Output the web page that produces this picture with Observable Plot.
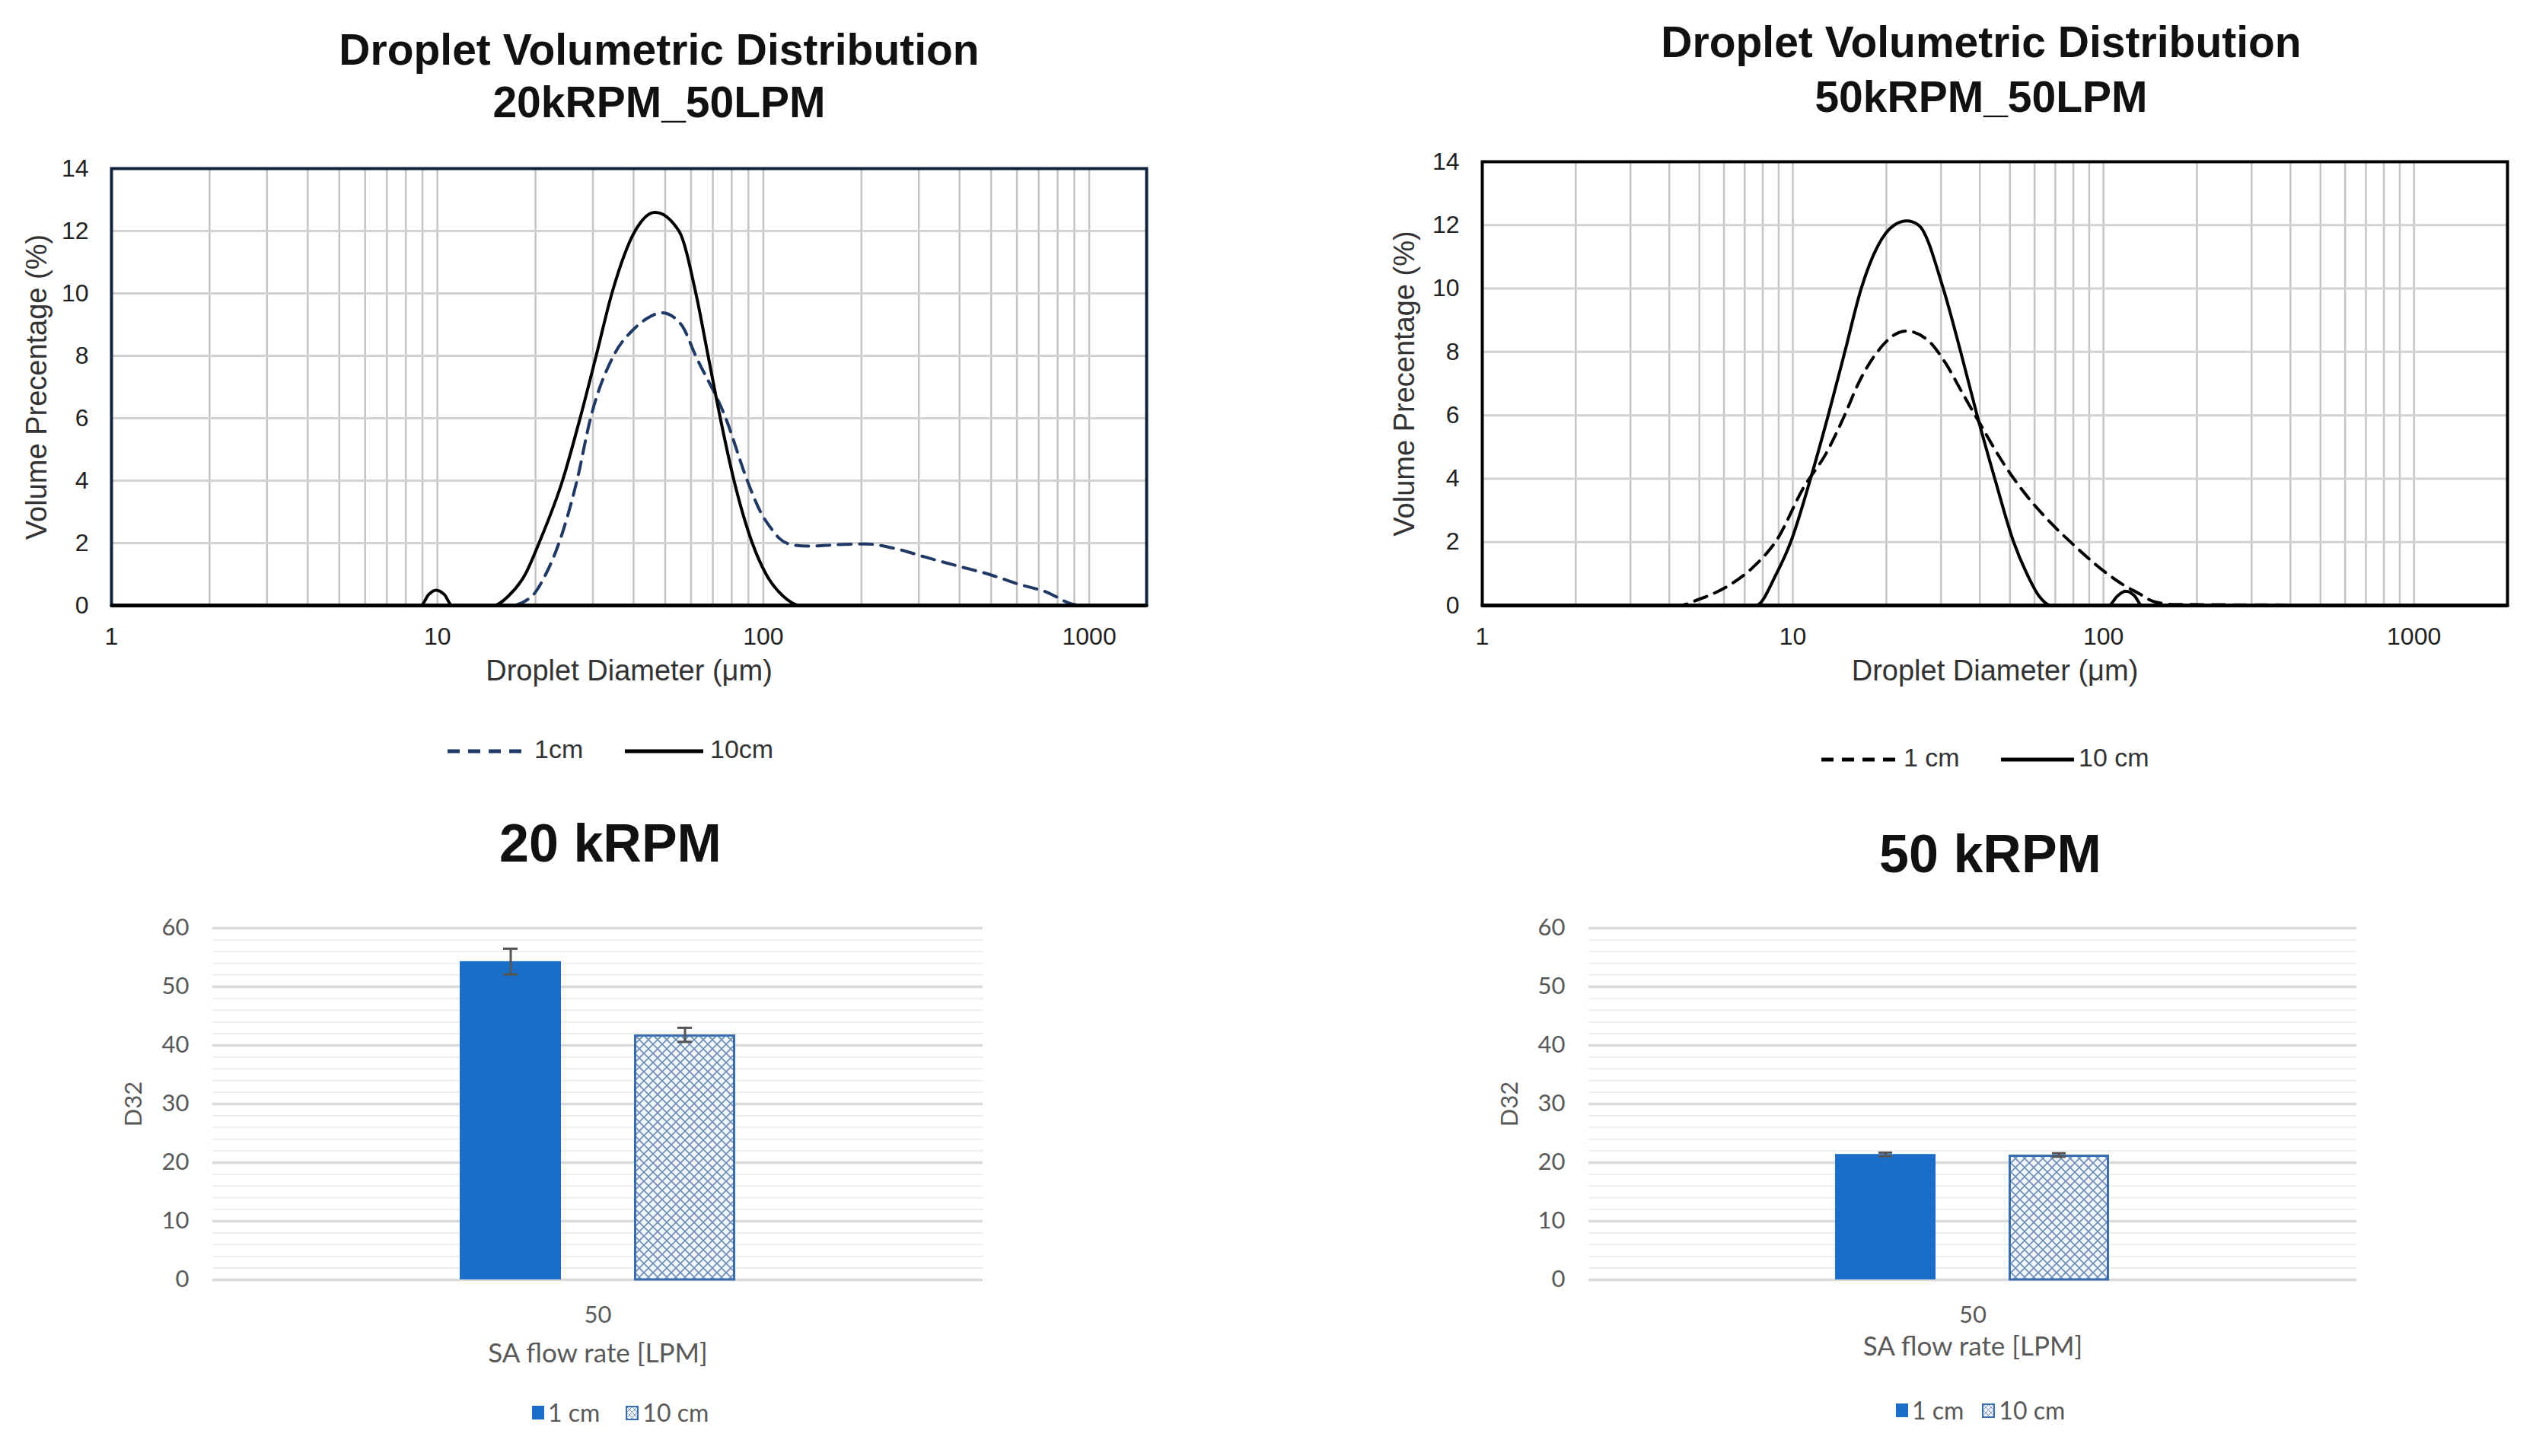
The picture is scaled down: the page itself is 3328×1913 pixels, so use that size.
<!DOCTYPE html>
<html><head><meta charset="utf-8">
<script src="https://cdn.jsdelivr.net/npm/d3@7"></script>
<script src="https://cdn.jsdelivr.net/npm/@observablehq/plot@0.6"></script>
<style>
body{margin:0;background:#fff;}
#root{position:relative;width:3328px;height:1913px;overflow:hidden;background:#fff;}
.abs{position:absolute;white-space:nowrap;line-height:1;}
.ttl{font-family:"Liberation Sans",Arial,sans-serif;font-weight:bold;color:#111;transform:translate(-50%,-50%);}
.lgl{font-family:"Liberation Sans",Arial,sans-serif;font-size:34px;color:#333;transform:translateY(-50%);}
.lgb{font-family:Lato,"Open Sans",sans-serif;font-size:32px;color:#595959;transform:translateY(-50%);display:flex;align-items:center;}
.sw1{display:inline-block;width:16px;height:18px;background:#1b6ec8;margin-right:5px;}
.sw2{display:inline-block;width:13px;height:15px;border:2px solid #3a6db0;margin-right:5px;background-color:#eef5fb;
 background-image:repeating-linear-gradient(45deg,#7d98bb 0 1px,transparent 1px 5px),repeating-linear-gradient(-45deg,#7d98bb 0 1px,transparent 1px 5px);}
</style></head><body><div id="root"></div>
<script>
// ---------- data ----------
const xTicks = [1, 10, 100, 1000];
const yTicksVol = [0, 2, 4, 6, 8, 10, 12, 14];
const gridYVol = [2, 4, 6, 8, 10, 12];

// 20kRPM_50LPM, 1 cm (dashed)
const dia20_1cm = [1, 16.8, 19.5, 21.5, 23.6, 26.8, 29.5, 34.7, 40, 44, 48.9, 56, 62, 76.7, 89.3, 98, 106, 112, 122, 137, 170, 207, 255, 314, 400, 492, 604, 743, 883, 950, 1500];
const vol20_1cm = [0, 0, 0.3, 1.0, 2.0, 4.0, 6.0, 8.0, 8.85, 9.2, 9.38, 9.0, 8.0, 6.0, 4.0, 3.0, 2.45, 2.15, 1.95, 1.9, 1.95, 1.97, 1.82, 1.55, 1.25, 1.0, 0.69, 0.42, 0.05, 0, 0];
// 20kRPM_50LPM, 10 cm (solid)
const dia20_10cm = [1, 8.9, 9.4, 9.9, 10.5, 11.1, 14.9, 16.5, 18.6, 20.5, 24.2, 27.4, 30.7, 34.3, 40.4, 46.5, 55.1, 62.1, 67.7, 73.8, 81.3, 92.5, 102, 115, 130, 1500];
const vol20_10cm = [0, 0, 0.35, 0.49, 0.35, 0, 0, 0.3, 1.0, 2.0, 4.0, 6.0, 8.0, 10.0, 12.0, 12.6, 12.0, 10.0, 8.0, 6.0, 4.0, 2.0, 1.0, 0.3, 0, 0];
// 50kRPM_50LPM, 1 cm (dashed)
const dia50_1cm = [1, 4.3, 4.94, 6.22, 7.45, 8.92, 10.8, 12.8, 14.6, 16.3, 18.6, 23.1, 27.2, 31, 35.3, 40.3, 47.4, 55.8, 65.8, 80, 94.2, 115, 131, 144.5, 170, 2000];
const vol50_1cm = [0, 0, 0.18, 0.63, 1.21, 2.1, 3.7, 4.8, 5.95, 7.03, 7.97, 8.66, 8.37, 7.65, 6.67, 5.69, 4.52, 3.54, 2.73, 1.92, 1.3, 0.67, 0.36, 0.13, 0.03, 0];
// 50kRPM_50LPM, 10 cm (solid)
const dia50_10cm = [1, 7.6, 8.85, 9.84, 11.4, 13.0, 14.7, 16.6, 21.2, 23.3, 25.4, 30.5, 34.7, 39.2, 44.7, 51.4, 56.7, 62, 67.9, 104, 111, 118, 126, 133, 2000];
const vol50_10cm = [0, 0, 1, 2, 4, 6, 8, 10, 12, 12.13, 12, 10, 8, 6, 4, 2, 1, 0.3, 0, 0, 0.3, 0.45, 0.3, 0, 0];

// D32 bar charts
const flowRates = ["50"];
const series = ["1 cm", "10 cm"];
const d32_20krpm = [54.3, 41.8];
const err_20krpm = [2.2, 1.2];
const d32_50krpm = [21.4, 21.3];
const err_50krpm = [0.3, 0.3];
const yTicksD32 = [0, 10, 20, 30, 40, 50, 60];
const minorD32 = [2, 4, 6, 8, 12, 14, 16, 18, 22, 24, 26, 28, 32, 34, 36, 38, 42, 44, 46, 48, 52, 54, 56, 58];

// ---------- helpers ----------
const root = document.getElementById("root");
function place(el, left, top) {
  el.style.position = "absolute"; el.style.left = left + "px"; el.style.top = top + "px";
  root.appendChild(el); return el;
}
function div(cls, html, left, top, extra) {
  const d = document.createElement("div"); d.className = "abs " + cls; d.innerHTML = html;
  if (extra) Object.assign(d.style, extra);
  return place(d, left, top);
}
const zip = (xs, ys) => xs.map((x, i) => ({d: x, v: ys[i]}));

function lineChart(o) {
  const width = o.width, height = o.height;
  const plot = Plot.plot({
    width, height,
    marginLeft: o.frameL - o.left, marginRight: o.left + width - o.frameR,
    marginTop: o.frameT - o.top, marginBottom: o.top + height - o.frameB,
    style: {fontFamily: '"Liberation Sans", Arial, sans-serif', background: "transparent"},
    x: {type: "log", domain: [1, o.xMax]},
    y: {domain: [0, 14]},
    marks: [
      Plot.gridX({stroke: "#c4c4c4", strokeOpacity: 1, strokeWidth: 2.5}),
      Plot.gridY(gridYVol, {stroke: "#d2d2d2", strokeOpacity: 1, strokeWidth: 3}),
      Plot.frame({stroke: o.frameColor, strokeWidth: 4}),
      Plot.line(zip(o.x1, o.y1), {x: "d", y: "v", stroke: o.dashColor, strokeWidth: 4, strokeDasharray: "17,11", curve: "monotone-x"}),
      Plot.line(zip(o.x10, o.y10), {x: "d", y: "v", stroke: "#000", strokeWidth: 4, curve: "monotone-x"}),
      Plot.ruleY([0], {stroke: "#000", strokeWidth: 5}),
      Plot.axisX({ticks: xTicks, tickFormat: d => String(d), tickSize: 0, tickPadding: 29, fontSize: 32, color: "#222", label: null}),
      Plot.axisY({ticks: yTicksVol, tickSize: 0, tickPadding: 30, fontSize: 32, color: "#222", label: null}),
      Plot.text(["Droplet Diameter (\u03bcm)"], {text: d => d, frameAnchor: "bottom", dy: 98, fontSize: 38, fill: "#333"}),
      Plot.text(["Volume Precentage (%)"], {text: d => d, frameAnchor: "left", textAnchor: "middle", dx: o.ylabDx, rotate: -90, fontSize: 38, fill: "#333"})
    ]
  });
  place(plot, o.left, o.top);
}

function barChart(o) {
  const width = o.width, height = o.height;
  const rows = series.map((s, i) => ({flow: flowRates[0], series: s, value: o.values[i], err: o.errs[i]}));
  const plot = Plot.plot({
    width, height,
    marginLeft: o.frameL - o.left, marginRight: o.left + width - o.frameR,
    marginTop: o.frameT - o.top, marginBottom: o.top + height - o.frameB,
    style: {fontFamily: 'Lato, "Open Sans", sans-serif', background: "transparent"},
    fx: {domain: flowRates, padding: 0},
    x: {domain: series, paddingInner: 0.419, paddingOuter: 1.419, axis: null},
    y: {domain: [0, 60], axis: null},
    marks: [
      Plot.ruleY(minorD32, {stroke: "#ededed", strokeWidth: 2}),
      Plot.ruleY(yTicksD32, {stroke: "#d9d9d9", strokeWidth: 3.5}),
      Plot.barY(rows.filter(r => r.series === series[0]), {fx: "flow", x: "series", y: "value", fill: "#1b6ec8"}),
      Plot.barY(rows.filter(r => r.series === series[1]), {fx: "flow", x: "series", y: "value", fill: `url(#${o.patId})`, stroke: "#3a6db0", strokeWidth: 3, insetLeft: 1.5, insetRight: 1.5, insetTop: 1.5}),
      Plot.ruleX(rows, {fx: "flow", x: "series", y1: r => r.value - r.err, y2: r => r.value + r.err, stroke: "#555", strokeWidth: 3}),
      Plot.tickY(rows, {fx: "flow", x: "series", y: r => r.value + r.err, stroke: "#555", strokeWidth: 3, insetLeft: 57, insetRight: 57}),
      Plot.tickY(rows, {fx: "flow", x: "series", y: r => r.value - r.err, stroke: "#555", strokeWidth: 3, insetLeft: 57, insetRight: 57}),
      Plot.axisY({ticks: yTicksD32, tickSize: 0, tickPadding: 31, fontSize: 31, color: "#595959", label: null}),
      Plot.axisFx({anchor: "bottom", tickSize: 0, tickPadding: 34, fontSize: 31, color: "#595959", label: null}),
      Plot.text(["SA flow rate [LPM]"], {text: d => d, frameAnchor: "bottom", dy: o.labelDy, fontSize: 35, fill: "#595959"}),
      Plot.text(["D32"], {text: d => d, frameAnchor: "left", textAnchor: "middle", dx: -103, rotate: -90, fontSize: 31, fill: "#595959"})
    ]
  });
  const ns = "http://www.w3.org/2000/svg";
  const defs = document.createElementNS(ns, "defs");
  defs.innerHTML = `<pattern id="${o.patId}" patternUnits="userSpaceOnUse" width="12" height="12">
    <rect width="12" height="12" fill="#f0f7fc"/>
    <path d="M0,0L12,12M12,0L0,12" stroke="#6f8db5" stroke-width="1.6"/></pattern>`;
  plot.insertBefore(defs, plot.firstChild);
  place(plot, o.left, o.top);
}

// ---------- top-left: 20kRPM_50LPM ----------
div("ttl", "Droplet Volumetric Distribution", 866, 65, {fontSize: "57px"});
div("ttl", "20kRPM_50LPM", 866, 134, {fontSize: "57px"});
lineChart({left: 0, top: 180, width: 1600, height: 760, frameL: 146, frameR: 1506, frameT: 221, frameB: 795,
  xMax: 1500, frameColor: "#10243f", dashColor: "#1f3864", ylabDx: -98,
  x1: dia20_1cm, y1: vol20_1cm, x10: dia20_10cm, y10: vol20_10cm});
function legendLine(x, y, w, dashed, color) {
  const s = `<svg width="${w}" height="10"><line x1="0" y1="5" x2="${w}" y2="5" stroke="${color}" stroke-width="5" ${dashed ? 'stroke-dasharray="16,11"' : ''}/></svg>`;
  div("", s, x, y - 5);
}
legendLine(588, 984, 102, true, "#1f3864");
div("lgl", "1cm", 702, 984);
legendLine(821, 984, 103, false, "#000");
div("lgl", "10cm", 933, 984);

// ---------- top-right: 50kRPM_50LPM ----------
div("ttl", "Droplet Volumetric Distribution", 2603, 55, {fontSize: "57px"});
div("ttl", "50kRPM_50LPM", 2603, 127, {fontSize: "57px"});
lineChart({left: 1700, top: 180, width: 1628, height: 760, frameL: 1947, frameR: 3294, frameT: 212, frameB: 795,
  xMax: 2000, frameColor: "#000", dashColor: "#000", ylabDx: -102,
  x1: dia50_1cm, y1: vol50_1cm, x10: dia50_10cm, y10: vol50_10cm});
legendLine(2393, 995, 101, true, "#000");
div("lgl", "1 cm", 2501, 995);
legendLine(2629, 995, 96, false, "#000");
div("lgl", "10 cm", 2731, 995);

// ---------- bottom-left: 20 kRPM ----------
div("ttl", "20 kRPM", 802, 1108, {fontSize: "70px"});
barChart({left: 0, top: 1150, width: 1560, height: 700, frameL: 279, frameR: 1291, frameT: 1219, frameB: 1681,
  values: d32_20krpm, errs: err_20krpm, patId: "pat20", labelDy: 108});
div("lgb", '<span class="sw1"></span>1 cm<span style="display:inline-block;width:34px"></span><span class="sw2"></span>10 cm', 699, 1856);

// ---------- bottom-right: 50 kRPM ----------
div("ttl", "50 kRPM", 2615, 1122, {fontSize: "70px"});
barChart({left: 1700, top: 1150, width: 1560, height: 700, frameL: 2087, frameR: 3096, frameT: 1219, frameB: 1681,
  values: d32_50krpm, errs: err_50krpm, patId: "pat50", labelDy: 99});
div("lgb", '<span class="sw1"></span>1 cm<span style="display:inline-block;width:24px"></span><span class="sw2"></span>10 cm', 2491, 1853);
</script></body></html>
